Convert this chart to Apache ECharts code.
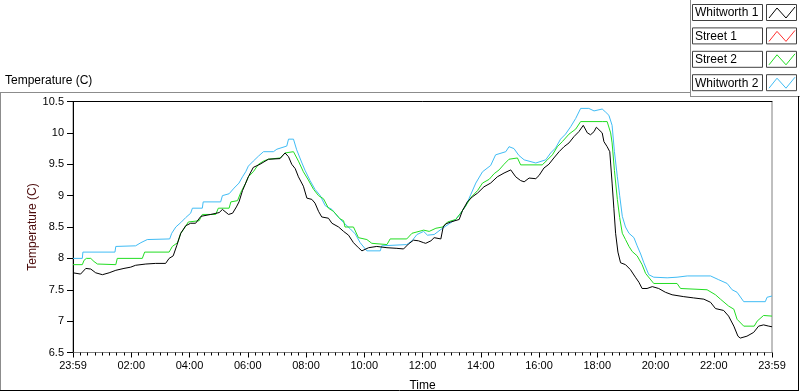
<!DOCTYPE html>
<html><head><meta charset="utf-8">
<script src="https://cdn.jsdelivr.net/npm/echarts@6/dist/echarts.min.js"></script>
<style>html,body{margin:0;padding:0;background:#fff}#c{width:800px;height:392px}</style>
</head><body><div id="c"></div>
<script>
// ---- data (time in hours since 23:59, value in °C) ----
const xTickLabels = ['23:59','02:00','04:00','06:00','08:00','10:00','12:00','14:00','16:00','18:00','20:00','22:00','23:59'];
const seriesNames = ['Whitworth 1','Street 1','Street 2','Whitworth 2'];
const seriesColors = ['#000000','#FF3030','#22DD22','#40BCF5'];

const whitworth1 = [[0,7.77],[0.26,7.75],[0.44,7.84],[0.61,7.83],[0.78,7.77],[1.01,7.74],[1.24,7.77],[1.47,7.81],[1.75,7.84],[1.98,7.86],[2.15,7.89],[2.5,7.91],[2.84,7.92],[3.18,7.92],[3.3,8.0],[3.44,8.04],[3.56,8.2],[3.7,8.4],[3.87,8.52],[4.04,8.56],[4.21,8.56],[4.39,8.67],[4.73,8.7],[5.02,8.73],[5.13,8.78],[5.34,8.7],[5.48,8.72],[5.61,8.82],[5.7,8.9],[5.82,9.08],[5.93,9.2],
[6.02,9.3],[6.19,9.45],[6.42,9.5],[6.71,9.58],[7.11,9.59],[7.28,9.68],[7.4,9.62],[7.51,9.5],[7.63,9.43],[7.74,9.3],[7.91,9.15],[8.03,8.96],[8.2,8.94],[8.31,8.88],[8.43,8.75],[8.54,8.66],[8.77,8.64],[8.89,8.56],[9.12,8.5],[9.29,8.43],[9.46,8.37],[9.63,8.25],[9.8,8.17],[9.92,8.12],[10.15,8.17],[10.43,8.19],[10.78,8.17],[11.12,8.16],[11.35,8.15],[11.52,8.23],[11.69,8.29],[11.86,8.28],[12.04,8.25],
[12.11,8.24],[12.29,8.28],[12.4,8.33],[12.63,8.31],[12.71,8.5],[12.8,8.55],[12.97,8.58],[13.26,8.62],[13.37,8.76],[13.54,8.9],[13.71,8.98],[13.89,9.04],[14.11,9.14],[14.34,9.2],[14.57,9.3],[14.8,9.36],[15.03,9.41],[15.2,9.3],[15.37,9.24],[15.49,9.22],[15.66,9.28],[15.89,9.27],[16.0,9.32],[16.17,9.44],[16.34,9.5],[16.51,9.6],[16.69,9.7],[16.86,9.78],[17.03,9.84],[17.2,9.94],[17.37,10.02],[17.52,10.12],[17.66,10.0],[17.77,9.97],[17.89,10.02],[17.97,10.09],[18.17,10.0],
[18.23,9.86],[18.34,9.78],[18.43,9.7],[18.51,9.2],[18.57,8.8],[18.63,8.4],[18.71,8.1],[18.8,7.93],[18.97,7.9],[19.14,7.82],[19.31,7.7],[19.43,7.62],[19.54,7.52],[19.71,7.52],[19.89,7.55],[20.11,7.52],[20.34,7.46],[20.57,7.42],[20.97,7.39],[21.31,7.37],[21.66,7.35],[21.89,7.3],[22.06,7.2],[22.34,7.17],[22.51,7.08],[22.69,6.92],[22.83,6.76],[22.91,6.73],[23.14,6.76],[23.37,6.82],[23.54,6.92],[23.71,6.94],[23.89,6.92],[24,6.91]];

const street1 = [];

const street2 = [[0,7.9],[0.32,7.9],[0.38,7.97],[0.46,8.0],[0.61,8.0],[0.72,7.95],[0.84,7.91],[1.47,7.9],[1.52,8.0],[2.38,8.0],[2.46,8.1],[3.3,8.1],[3.41,8.19],[3.59,8.25],[3.7,8.4],[3.81,8.47],[3.96,8.58],[4.33,8.6],[4.44,8.7],[4.9,8.7],[4.99,8.8],[5.36,8.8],[5.42,8.9],[5.65,8.92],[5.76,9.05],[5.93,9.2],
[6.02,9.3],[6.19,9.38],[6.37,9.5],[6.54,9.55],[6.71,9.58],[7.11,9.6],[7.28,9.68],[7.57,9.7],[7.74,9.55],[7.91,9.38],[8.08,9.25],[8.26,9.1],[8.43,9.0],[8.6,8.95],[8.77,8.8],[8.94,8.75],[9.17,8.63],[9.29,8.6],[9.34,8.5],[9.63,8.5],[9.8,8.33],[10.09,8.3],[10.26,8.24],[10.78,8.22],[10.89,8.31],[11.46,8.31],[11.64,8.4],[12.04,8.45],
[12.23,8.43],[12.46,8.48],[12.69,8.5],[12.86,8.58],[13.14,8.62],[13.31,8.72],[13.49,8.84],[13.66,8.97],[13.89,9.08],[14.06,9.2],[14.29,9.26],[14.46,9.35],[14.63,9.41],[14.8,9.5],[14.97,9.58],[15.26,9.6],[15.37,9.49],[16.11,9.49],[16.29,9.57],[16.46,9.65],[16.63,9.78],[16.8,9.86],[17.03,9.98],[17.26,10.06],[17.43,10.18],[18.17,10.18],
[18.34,10.18],[18.46,10.0],[18.51,9.84],[18.59,9.4],[18.69,8.94],[18.77,8.65],[18.86,8.4],[18.97,8.3],[19.09,8.19],[19.2,8.11],[19.37,8.04],[19.54,7.9],[19.66,7.76],[19.94,7.6],[20.74,7.6],[20.86,7.52],[21.77,7.5],[22.06,7.42],[22.23,7.35],[22.51,7.24],[22.69,7.19],[22.8,7.03],[23.03,6.92],[23.39,6.92],[23.49,7.0],[23.71,7.09],[24,7.08]];

const whitworth2 = [[0,8.0],[0.32,8.0],[0.34,8.1],[1.44,8.1],[1.47,8.19],[2.15,8.2],[2.33,8.25],[2.55,8.3],[3.32,8.31],[3.39,8.4],[3.53,8.5],[3.7,8.57],[3.87,8.65],[4.04,8.72],[4.1,8.8],[4.44,8.8],[4.47,8.9],[5.07,8.9],[5.13,9.0],[5.36,9.03],[5.53,9.12],[5.7,9.2],[5.82,9.3],[5.93,9.38],
[6.02,9.47],[6.19,9.55],[6.37,9.63],[6.54,9.7],[6.88,9.7],[7.0,9.74],[7.34,9.79],[7.4,9.9],[7.57,9.9],[7.68,9.73],[7.86,9.52],[7.97,9.4],[8.14,9.24],[8.31,9.1],[8.49,9.0],[8.66,8.84],[8.89,8.78],[9.12,8.65],[9.29,8.57],[9.52,8.47],[9.69,8.39],[9.86,8.25],[10.09,8.12],[10.55,8.12],[10.6,8.2],[11.46,8.22],[11.64,8.28],[11.81,8.38],[12.04,8.43],
[12.17,8.37],[12.4,8.38],[12.63,8.46],[12.91,8.55],[13.14,8.62],[13.31,8.72],[13.49,8.84],[13.66,9.02],[13.83,9.2],[14.06,9.38],[14.34,9.48],[14.51,9.65],[14.86,9.7],[14.97,9.78],[15.14,9.75],[15.31,9.64],[15.49,9.57],[15.89,9.52],[16.23,9.57],[16.4,9.68],[16.57,9.76],[16.74,9.9],[16.91,9.98],[17.09,10.1],[17.26,10.23],[17.43,10.39],[17.71,10.39],[17.89,10.35],[18.17,10.38],
[18.29,10.33],[18.4,10.28],[18.51,10.12],[18.59,9.7],[18.69,9.3],[18.77,9.0],[18.86,8.67],[18.97,8.5],[19.09,8.4],[19.26,8.33],[19.37,8.2],[19.49,8.07],[19.6,7.93],[19.77,7.74],[19.94,7.7],[20.4,7.69],[20.74,7.7],[21.09,7.72],[21.89,7.72],[22.17,7.66],[22.46,7.6],[22.63,7.5],[22.8,7.46],[23.03,7.31],[23.77,7.31],[23.83,7.38],[24,7.4]];

const seriesData = [whitworth1, street1, street2, whitworth2];

// ---- chart ----
const chart = echarts.init(document.getElementById('c'), null, {renderer:'canvas'});
const FONT = 'Liberation Sans';

const legendGraphics = [];
seriesNames.forEach((name, i) => {
  const y0 = 4 + i * 23.4;
  legendGraphics.push({type:'rect', shape:{x:692.5, y:y0+0.5, width:70, height:16},
    style:{fill:'#fff', stroke:'#404040', lineWidth:1}, silent:true});
  legendGraphics.push({type:'text', x:695, y:y0+9,
    style:{text:name, fill:'#000', font:'12px ' + FONT, textVerticalAlign:'middle'}, silent:true});
  legendGraphics.push({type:'rect', shape:{x:766.5, y:y0+0.5, width:30, height:16},
    style:{fill:'#fff', stroke:'#404040', lineWidth:1}, silent:true});
  legendGraphics.push({type:'polyline', shape:{points:[[769,y0+14],[777,y0+4],[786,y0+14],[795,y0+3]]},
    style:{stroke:seriesColors[i], lineWidth:1, fill:null}, silent:true});
});

const frame = [
  {type:'line', shape:{x1:0, y1:92.5, x2:690, y2:92.5}, style:{stroke:'#8c8c8c', lineWidth:1}},
  {type:'line', shape:{x1:690.5, y1:0, x2:690.5, y2:96}, style:{stroke:'#8c8c8c', lineWidth:1}},
  {type:'line', shape:{x1:690, y1:96.5, x2:800, y2:96.5}, style:{stroke:'#8c8c8c', lineWidth:1}},
  {type:'line', shape:{x1:0.5, y1:92, x2:0.5, y2:391}, style:{stroke:'#8c8c8c', lineWidth:1}},
  {type:'line', shape:{x1:0, y1:390.5, x2:799, y2:390.5}, style:{stroke:'#000', lineWidth:1}},
  {type:'line', shape:{x1:798.5, y1:96, x2:798.5, y2:391}, style:{stroke:'#000', lineWidth:1}}
];

const option = {
  backgroundColor:'#ffffff',
  animation:false,
  title:{text:'Temperature (C)', left:5, top:75, padding:0,
    textStyle:{fontSize:12, fontWeight:'normal', color:'#000', fontFamily:FONT}},
  grid:{left:73, right:28, top:101.5, bottom:39.5, show:true, backgroundColor:'#fff',
    borderColor:'#808080', borderWidth:1, containLabel:false, outerBoundsMode:'none'},
  xAxis:[{
    type:'value', min:0, max:24, interval:2, position:'bottom',
    name:'Time', nameLocation:'middle', nameGap:27, nameMoveOverlap:false,
    nameTextStyle:{fontSize:12, color:'#000', fontFamily:FONT},
    axisLine:{show:true, lineStyle:{color:'#808080', width:1}},
    axisTick:{show:true, length:5, inside:false, lineStyle:{color:'#000'}},
    minorTick:{show:true, splitNumber:8, length:3, lineStyle:{color:'#000'}},
    axisLabel:{margin:8, fontSize:11, color:'#000', fontFamily:FONT,
      formatter:(v)=>xTickLabels[Math.round(v/2)]},
    splitLine:{show:false}
  },{
    type:'value', min:0, max:24, position:'top',
    axisLine:{show:true, lineStyle:{color:'#000', width:1}},
    axisTick:{show:false}, axisLabel:{show:false}, splitLine:{show:false}
  }],
  yAxis:{
    type:'value', min:6.5, max:10.5, interval:0.5,
    name:'Temperature (C)', nameLocation:'middle', nameGap:34, nameRotate:90, nameMoveOverlap:false,
    nameTextStyle:{fontSize:12, color:'#4a0a0a', fontFamily:FONT},
    axisLine:{show:true, lineStyle:{color:'#000', width:1}},
    axisTick:{show:true, length:6, lineStyle:{color:'#000'}},
    axisLabel:{margin:9, fontSize:11, color:'#000', fontFamily:FONT},
    splitLine:{show:false}
  },
  series: seriesNames.map((name, i) => ({
    name:name, type:'line', data:seriesData[i], showSymbol:false, symbol:'none',
    lineStyle:{color:seriesColors[i], width:1}, itemStyle:{color:seriesColors[i]},
    z: 10 - i, clip:true
  })),
  graphic: frame.concat(legendGraphics)
};
chart.setOption(option);
</script>
</body></html>
